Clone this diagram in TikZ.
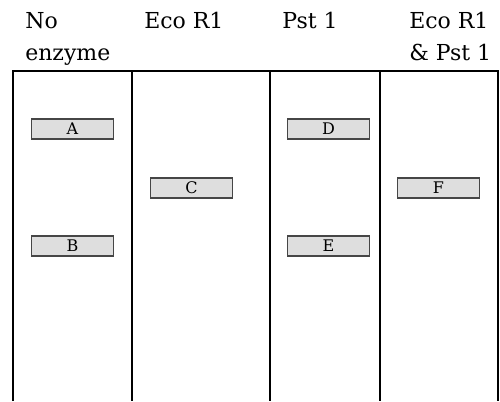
\documentclass[tikz,border=0pt]{standalone}
\usepackage{fontspec}
\setmainfont{DejaVu Serif}
\usetikzlibrary{positioning}
\definecolor{gelGrey}{RGB}{222,222,222}
\definecolor{gelEdge}{RGB}{70,70,70}

\begin{document}
\begin{tikzpicture}[x=0.75pt, y=-0.75pt,
    lane/.style={anchor=base west, inner sep=0pt, font=\fontsize{16.5}{20}\selectfont},
    band/.style={rectangle, draw=gelEdge, fill=gelGrey, line width=0.8pt,
                 minimum width=62pt, minimum height=15pt, inner sep=0pt,
                 font=\fontsize{12}{14}\selectfont},
    wall/.style={line width=0.9pt, black}
  ]
  \useasboundingbox (0,0) rectangle (500,401);

  % lane headings
  \node[lane] (noenz)  at (25,28)  {No};
  \node[lane] (noenz2) at (25,60)  {enzyme};
  \node[lane] (eco)    at (144,28) {Eco R1};
  \node[lane] (pst)    at (282,28) {Pst 1};
  \node[lane] (both)   at (409,28) {Eco R1};
  \node[lane] (both2)  at (409,60) {\& Pst 1};

  % gel frame
  \coordinate (tl) at (13,71);
  \coordinate (tr) at (498,71);
  \draw[wall] (13,401) -- (tl) -- (tr) -- (498,401);
  \foreach \x in {132,270,380}
    \draw[wall] (\x,71) -- (\x,401);

  % bands
  \node[band] (A) at (72.5,129)  {A};
  \node[band] (B) at (72.5,246)  {B};
  \node[band] (C) at (191.5,188) {C};
  \node[band] (D) at (328.5,129) {D};
  \node[band] (E) at (328.5,246) {E};
  \node[band] (F) at (438.5,188) {F};
\end{tikzpicture}
\end{document}
